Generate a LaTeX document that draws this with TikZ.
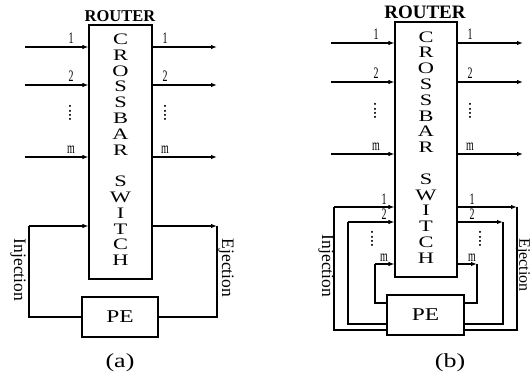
\documentclass[tikz,border=0pt]{standalone}
\usepackage{fontspec}
\usepackage{graphicx}
\setmainfont{Liberation Serif}
\usetikzlibrary{arrows.meta,positioning,calc}
\tikzset{
  xbar/.style={draw, line width=1.2pt, align=center, inner sep=0pt,
               font=\fontsize{16}{15.8}\selectfont},
  pebox/.style={draw, line width=1.2pt, inner sep=0pt, font=\fontsize{18}{18}\selectfont},
  numlab/.style={font=\fontsize{16}{16}\selectfont, xscale=0.62, inner sep=1pt},
  dotlab/.style={font=\fontsize{17}{17}\selectfont, rotate=90, inner sep=0pt},
  sidelab/.style={font=\fontsize{17.5}{17.5}\selectfont, rotate=-90, inner sep=0pt},
  caplab/.style={font=\fontsize{20}{20}\selectfont, xscale=1.3},
  arr/.style={-{Latex[length=6pt,width=4.5pt]}, line width=1.1pt},
  wire/.style={line width=1.1pt}}
\newcommand{\xbartext}{\scalebox{1.4}[1]{\begin{tabular}{@{}c@{}}C\\R\\O\\S\\S\\B\\A\\R\\~\\S\\W\\I\\T\\C\\H\end{tabular}}}
\newcommand{\petext}{\scalebox{1.3}[1]{PE}}
\begin{document}
\begin{tikzpicture}[x=1pt, y=-1pt]
  \useasboundingbox (0,0) rectangle (531,380);
  % panel (a)
  \node[xbar, minimum width=63pt, minimum height=254pt] (xa) at (120.5,152) {\xbartext};
  \node[font=\fontsize{16.5}{16.5}\selectfont\bfseries, inner sep=0pt] (ra) at (120,16) {ROUTER};
  \node[pebox, minimum width=76pt, minimum height=40pt] (pea) at (120,317) {\petext};
  \foreach \y/\lab in {47/1, 85/2, 157/m} {
    \coordinate (ain\lab) at (25,\y);
    \coordinate (aout\lab) at (217,\y);
    \draw[arr] (ain\lab) -- (ain\lab -| xa.west);
    \draw[arr] (aout\lab -| xa.east) -- (aout\lab);
    \node[numlab, anchor=south] at (71,\y-2) {\lab};
    \node[numlab, anchor=south] at (165,\y-2) {\lab};
  }
  \node[dotlab] (adl) at (70,113) {....};
  \node[dotlab] (adr) at (165,113) {....};
  % injection and ejection
  \coordinate (ainj) at (29,226);
  \coordinate (aej) at (217,226);
  \draw[wire] (pea.west) -| (ainj);
  \draw[arr] (ainj) -- (ainj -| xa.west);
  \draw[arr] (aej -| xa.east) -- (aej);
  \draw[wire] (aej) |- (pea.east);
  \node[sidelab] (ainjl) at (18,270) {Injection};
  \node[sidelab] (aejl) at (226,268) {Ejection};
  \node[caplab] (capa) at (120,363) {(a)};
  % panel (b)
  \node[xbar, minimum width=62pt, minimum height=255pt] (xb) at (426,149.5) {\xbartext};
  \node[font=\fontsize{19}{19}\selectfont\bfseries, inner sep=0pt] (rb) at (425,12) {ROUTER};
  \node[pebox, minimum width=77pt, minimum height=40pt] (peb) at (425.5,315) {\petext};
  \foreach \y/\lab in {43/1, 82/2, 154/m} {
    \coordinate (bin\lab) at (331,\y);
    \coordinate (bout\lab) at (523,\y);
    \draw[arr] (bin\lab) -- (bin\lab -| xb.west);
    \draw[arr] (bout\lab -| xb.east) -- (bout\lab);
    \node[numlab, anchor=south] at (376,\y-2) {\lab};
    \node[numlab, anchor=south] at (470,\y-2) {\lab};
  }
  \node[dotlab] (bdl) at (375,111) {....};
  \node[dotlab] (bdr) at (470,111) {....};
  % loops through the PE
  \foreach \y/\xl/\xr/\yb/\lab in {207/334/517/330/1, 222/348/503/324/2, 264/375/477/303/m} {
    \coordinate (binj\lab) at (\xl,\y);
    \coordinate (bej\lab) at (\xr,\y);
    \draw[wire] (peb.west |- 0,\yb) -| (binj\lab);
    \draw[arr] (binj\lab) -- (binj\lab -| xb.west);
    \draw[arr] (bej\lab -| xb.east) -- (bej\lab);
    \draw[wire] (bej\lab) |- (peb.east |- 0,\yb);
    \node[numlab, anchor=south] at (384,\y-1) {\lab};
    \node[numlab, anchor=south] at (472,\y-1) {\lab};
  }
  \node[dotlab] (bdl2) at (372,239) {....};
  \node[dotlab] (bdr2) at (480,239) {....};
  \node[sidelab] (binjl) at (326,266) {Injection};
  \node[sidelab, font=\fontsize{16}{16}\selectfont] (bejl) at (523,265) {Ejection};
  \node[caplab] (capb) at (450,363) {(b)};
\end{tikzpicture}
\end{document}
